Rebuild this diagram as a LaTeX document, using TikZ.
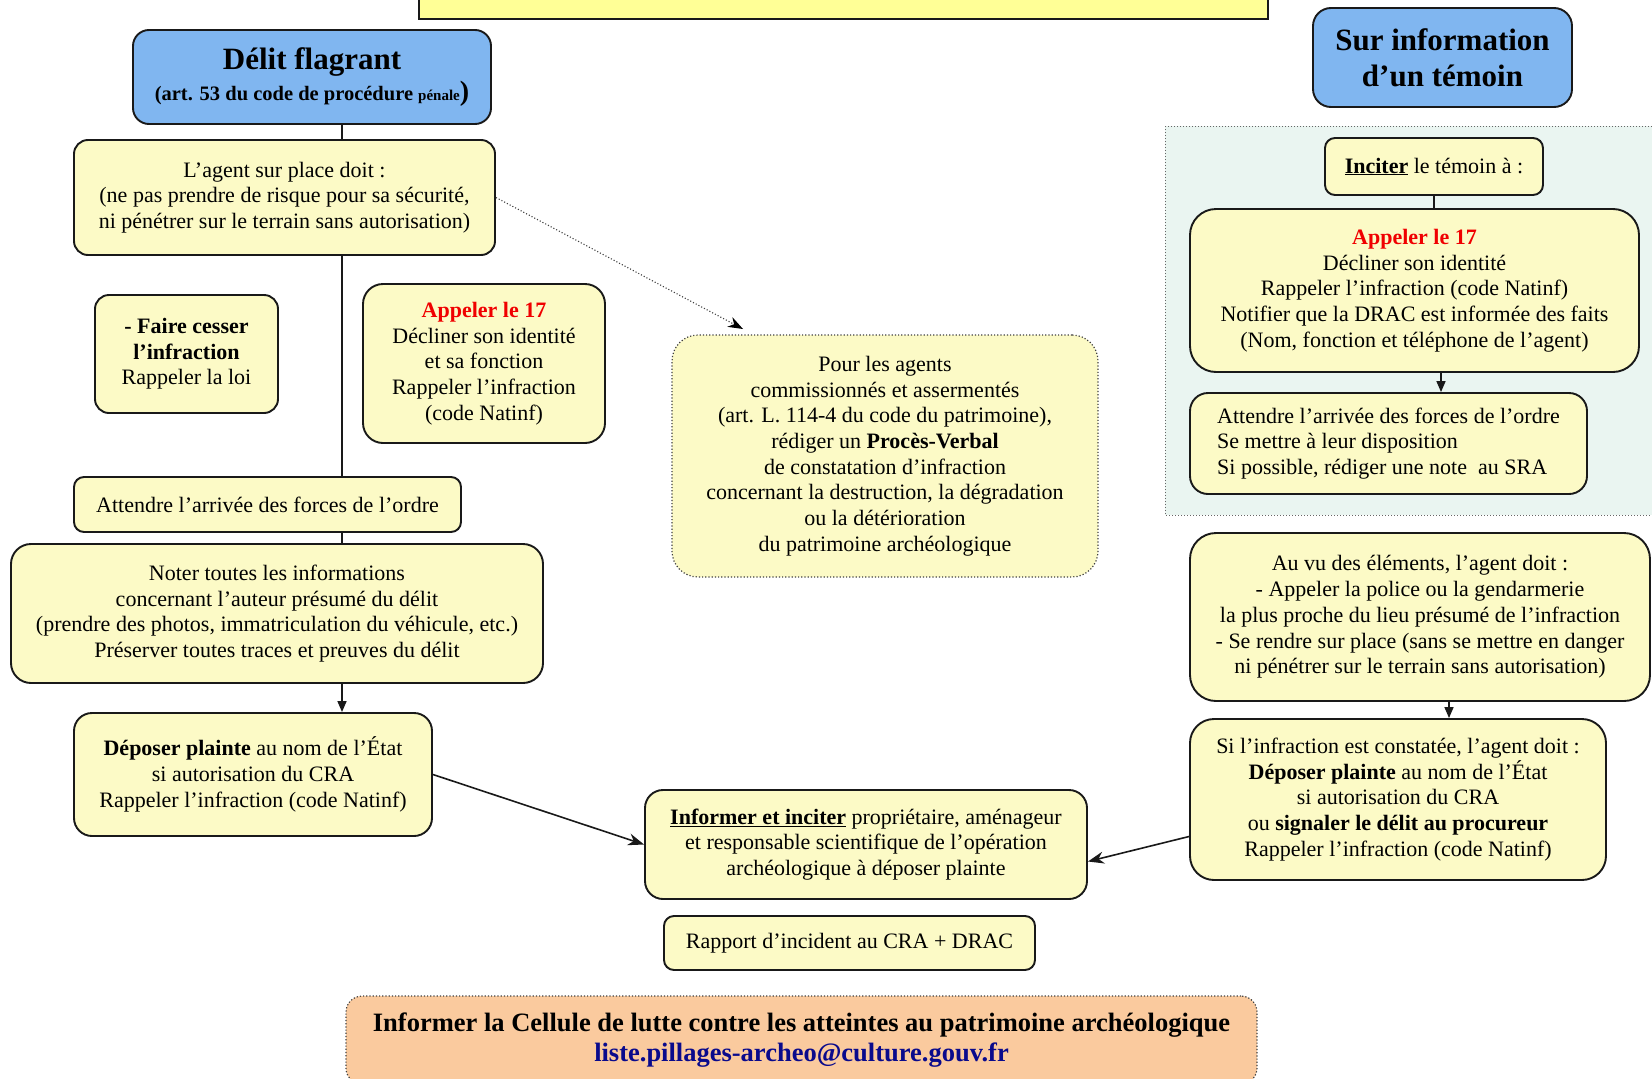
\documentclass[tikz,border=0pt]{standalone}
\usepackage{fontspec}
\setmainfont{Liberation Serif}
\usetikzlibrary{arrows.meta}
\definecolor{byellow}{RGB}{252,250,198}
\definecolor{topyellow}{RGB}{255,255,150}
\definecolor{bblue}{RGB}{128,182,240}
\definecolor{borange}{RGB}{250,202,158}
\definecolor{regionbg}{RGB}{234,245,241}
\definecolor{redseventeen}{RGB}{240,0,0}
\definecolor{navymail}{RGB}{10,10,140}
\newcommand{\mybody}{\fontsize{22}{25.7}\selectfont}
\newcommand{\myhead}{\fontsize{31}{36}\selectfont\bfseries}
\begin{document}
\begin{tikzpicture}[x=1pt,y=-1pt,
  box/.style={draw=black!90, line width=1.9pt, rounded corners=14pt, fill=byellow,
    align=center, inner sep=0pt, font=\mybody},
  bluebox/.style={box, fill=bblue, rounded corners=16pt},
  dotbox/.style={box, draw=black!75, line width=1.2pt, dotted, rounded corners=26pt},
  conn/.style={draw=black!90, line width=1.6pt},
  arrowv/.style={conn, -{Triangle[length=11pt,width=9pt]}},
  bigarrow/.style={conn, -{Stealth[length=16pt,width=12pt]}},
  dotarrow/.style={draw=black!75, line width=1.1pt, dotted, -{Stealth[length=15pt,width=11pt,fill=black,line width=0pt]}},
  region/.style={fill=regionbg, draw=black!60, line width=1pt, dotted}
]
\useasboundingbox (0,0) rectangle (1652,1079);

% background region on the right
\draw[region] (1165,126) rectangle (1675,515);

% top box (clipped by page)
\node[box, fill=topyellow, rounded corners=0pt, line width=1.6pt,
  minimum width=849pt, minimum height=50pt] (top) at (843.5,-6) {};

% left column
\node[bluebox, minimum width=358pt, minimum height=94pt] (delit) at (312,77)
  {{\myhead Délit flagrant}\\[3pt]
   {\bfseries\fontsize{20.5}{24}\selectfont (art. 53 du code de procédure {\fontsize{15}{18}\selectfont pénale}{\fontsize{28}{24}\selectfont )}}};

\node[box, minimum width=421pt, minimum height=115pt] (agent) at (284.5,197.5)
  {L’agent sur place doit :\\(ne pas prendre de risque pour sa sécurité,\\ni pénétrer sur le terrain sans autorisation)};

\node[box, minimum width=183pt, minimum height=118pt] (faire) at (186.5,354)
  {\textbf{- Faire cesser}\\\textbf{l’infraction}\\Rappeler la loi};

\node[box, rounded corners=20pt, minimum width=242pt, minimum height=159pt] (appL) at (484,363.5)
  {\textcolor{redseventeen}{\textbf{Appeler le 17}}\\Décliner son identité\\et sa fonction\\Rappeler l’infraction\\(code Natinf)};

\node[box, minimum width=387pt, minimum height=55pt, rounded corners=10pt] (attL) at (267.5,504.5)
  {Attendre l’arrivée des forces de l’ordre};

\node[box, rounded corners=20pt, minimum width=532pt, minimum height=139pt] (noter) at (277,613.5)
  {Noter toutes les informations\\concernant l’auteur présumé du délit\\(prendre des photos, immatriculation du véhicule, etc.)\\Préserver toutes traces et preuves du délit};

\node[box, rounded corners=18pt, minimum width=358pt, minimum height=123pt] (deposer) at (253,774.5)
  {\textbf{Déposer plainte} au nom de l’État\\si autorisation du CRA\\Rappeler l’infraction (code Natinf)};

% middle column
\node[dotbox, minimum width=426pt, minimum height=242pt] (pour) at (885,456)
  {Pour les agents\\commissionnés et assermentés\\(art. L. 114-4 du code du patrimoine),\\rédiger un \textbf{Procès-Verbal}\\de constatation d’infraction\\concernant la destruction, la dégradation\\ou la détérioration\\du patrimoine archéologique};

\node[box, rounded corners=18pt, minimum width=442pt, minimum height=109pt] (informer) at (866,844.5)
  {\underline{\textbf{Informer et inciter}} propriétaire, aménageur\\et responsable scientifique de l’opération\\archéologique à déposer plainte};

\node[box, rounded corners=10pt, minimum width=371pt, minimum height=54pt] (rapport) at (849.5,943)
  {Rapport d’incident au CRA + DRAC};

\node[dotbox, fill=borange, rounded corners=16pt, minimum width=911pt, minimum height=88pt,
  font=\fontsize{26.5}{30}\selectfont\bfseries] (cellule) at (801.5,1040)
  {Informer la Cellule de lutte contre les atteintes au patrimoine archéologique\\
   \textcolor{navymail}{liste.pillages-archeo@culture.gouv.fr}};

% right column
\node[bluebox, rounded corners=18pt, minimum width=259pt, minimum height=99pt,
  font=\myhead] (temoin) at (1442.5,57.5)
  {Sur information\\d’un témoin};

\node[box, rounded corners=10pt, minimum width=218pt, minimum height=57pt] (inciter) at (1434,166.5)
  {\underline{\textbf{Inciter}} le témoin à :};

\node[box, rounded corners=26pt, minimum width=449pt, minimum height=163pt] (appR) at (1414.5,290.5)
  {\textcolor{redseventeen}{\textbf{Appeler le 17}}\\Décliner son identité\\Rappeler l’infraction (code Natinf)\\Notifier que la DRAC est informée des faits\\(Nom, fonction et téléphone de l’agent)};

\node[box, align=left, rounded corners=18pt, minimum width=397pt, minimum height=101pt] (attR) at (1388.5,443.5)
  {Attendre l’arrivée des forces de l’ordre\\Se mettre à leur disposition\\Si possible, rédiger une note\ \ au SRA};

\node[box, rounded corners=26pt, minimum width=460pt, minimum height=168pt] (auvu) at (1420,617)
  {Au vu des éléments, l’agent doit :\\- Appeler la police ou la gendarmerie\\la plus proche du lieu présumé de l’infraction\\- Se rendre sur place (sans se mettre en danger\\ni pénétrer sur le terrain sans autorisation)};

\node[box, rounded corners=24pt, minimum width=416pt, minimum height=161pt] (siinf) at (1398,799.5)
  {Si l’infraction est constatée, l’agent doit :\\\textbf{Déposer plainte} au nom de l’État\\si autorisation du CRA\\ou \textbf{signaler le délit au procureur}\\Rappeler l’infraction (code Natinf)};

% connectors
\coordinate (lx) at (342,0);
\coordinate (pourtip) at (743,329);
\coordinate (rxa) at (1441,0);
\coordinate (rxb) at (1449,0);

\draw[conn] (delit.south -| lx) -- (agent.north -| lx);
\draw[conn] (agent.south -| lx) -- (attL.north -| lx);
\draw[conn] (attL.south -| lx) -- (noter.north -| lx);
\draw[arrowv] (noter.south -| lx) -- (deposer.north -| lx);

\draw[dotarrow] (agent.east) -- (pourtip);

\draw[bigarrow] (deposer.east) -- (informer.west);
\draw[bigarrow] ([yshift=-37pt]siinf.west) -- ([yshift=-17pt]informer.east);

\draw[conn] (inciter.south) -- (inciter.south |- appR.north);
\draw[arrowv] (appR.south -| rxa) -- (attR.north -| rxa);
\draw[arrowv] (auvu.south -| rxb) -- (siinf.north -| rxb);
\end{tikzpicture}
\end{document}
